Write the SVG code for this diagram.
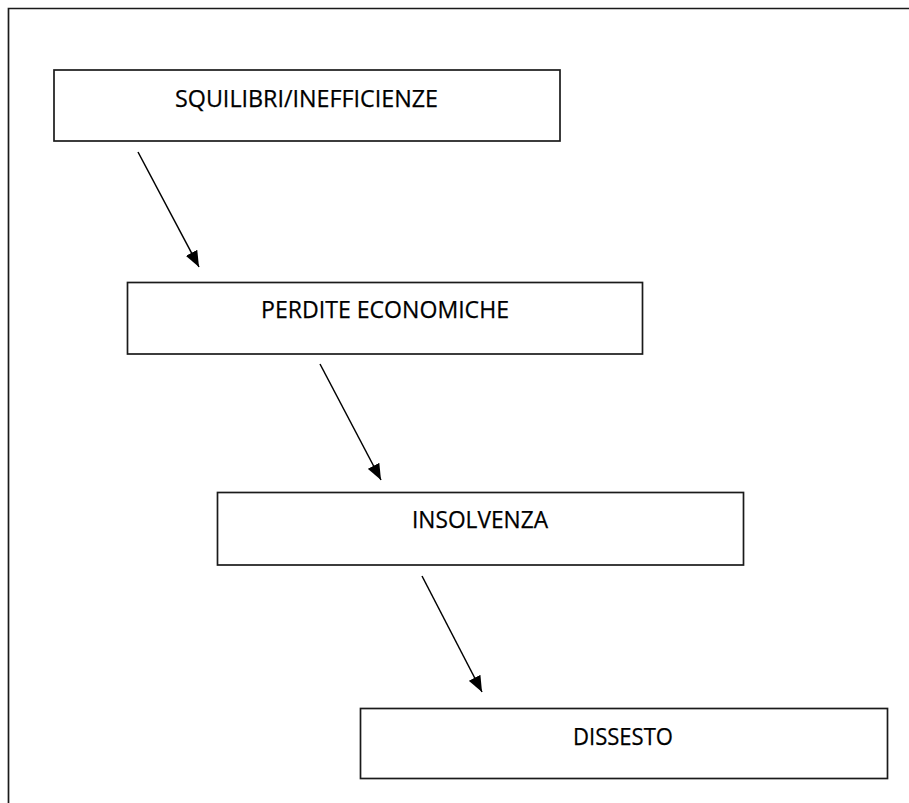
<svg xmlns="http://www.w3.org/2000/svg" width="909" height="803" viewBox="0 0 909 803">
<defs>
<style>
.box{fill:#ffffff;stroke:#1a1a1a;stroke-width:1.7}
.lbl{font-family:"Open Sans","Noto Sans",sans-serif;font-size:24px;fill:#000;stroke:#000;stroke-width:0.25;text-anchor:start}
.conn{stroke:#000;stroke-width:1.5;fill:none}
</style>
<marker id="ah" markerUnits="userSpaceOnUse" markerWidth="17" markerHeight="14" refX="16" refY="7" orient="auto">
<path d="M0,0.5 L16,7 L0,13.5 Z" fill="#000"/>
</marker>
</defs>
<rect x="0" y="0" width="909" height="803" fill="#ffffff"/>
<path d="M8.5,812 L8.5,8.5 L920,8.5" fill="none" stroke="#1a1a1a" stroke-width="1.7"/>
<g id="node-squilibri">
<rect class="box" x="54" y="70" width="506" height="71"/>
<text class="lbl" x="175" y="107" textLength="263" lengthAdjust="spacingAndGlyphs">SQUILIBRI/INEFFICIENZE</text>
</g>
<g id="node-perdite">
<rect class="box" x="127.5" y="282.5" width="515" height="71.5"/>
<text class="lbl" x="261" y="318" textLength="248" lengthAdjust="spacingAndGlyphs">PERDITE ECONOMICHE</text>
</g>
<g id="node-insolvenza">
<rect class="box" x="217.5" y="492.5" width="526" height="72.5"/>
<text class="lbl" x="412" y="528" textLength="136" lengthAdjust="spacingAndGlyphs">INSOLVENZA</text>
</g>
<g id="node-dissesto">
<rect class="box" x="360.5" y="708.5" width="527" height="70"/>
<text class="lbl" x="573" y="744.5" textLength="100" lengthAdjust="spacingAndGlyphs">DISSESTO</text>
</g>
<g id="connectors">
<line class="conn" x1="138" y1="152" x2="199" y2="267" marker-end="url(#ah)"/>
<line class="conn" x1="320" y1="364" x2="381" y2="480" marker-end="url(#ah)"/>
<line class="conn" x1="422" y1="576" x2="482" y2="692" marker-end="url(#ah)"/>
</g>
</svg>
